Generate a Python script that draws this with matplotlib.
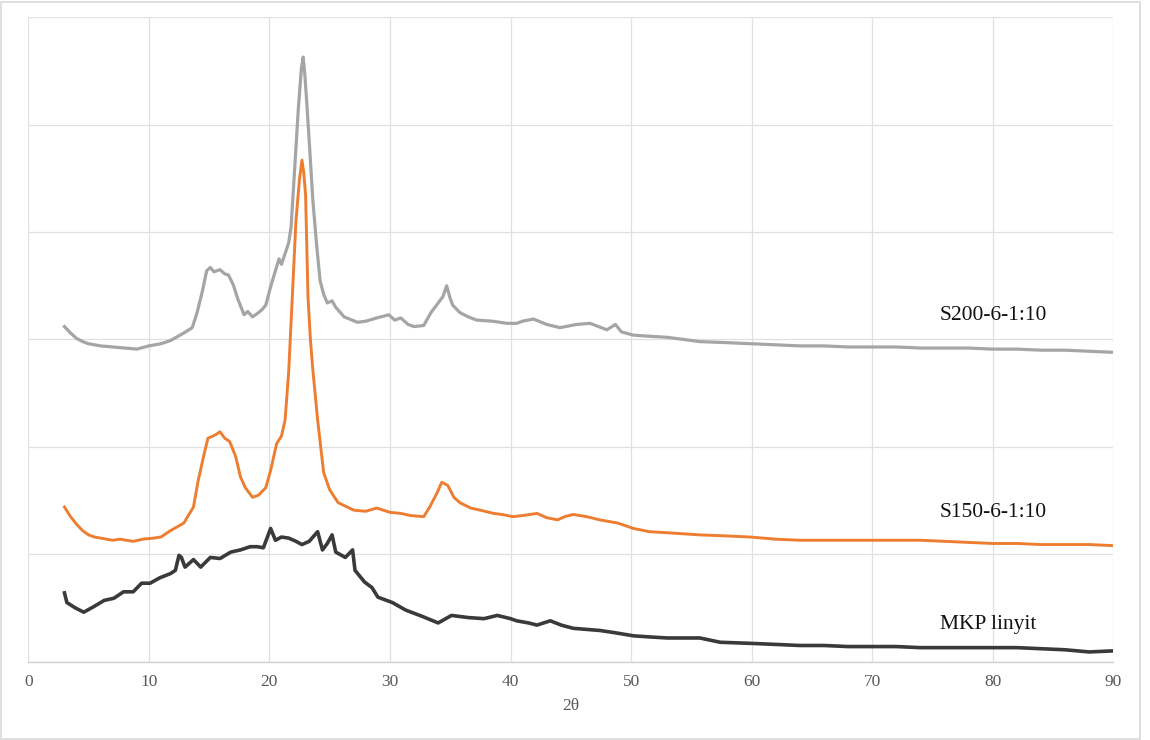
import matplotlib
matplotlib.use("Agg")
import matplotlib.pyplot as plt
from matplotlib.patches import Rectangle

# XRD patterns (intensity in arbitrary, vertically offset units)
s200_x = [3.0, 3.5, 4.0, 4.5, 5.0, 6.0, 7.0, 8.0, 9.0, 10.0, 11.0, 11.8, 12.9, 13.6, 14.0,
          14.4, 14.8, 15.1, 15.4, 15.9, 16.3, 16.6, 17.0, 17.4, 17.9, 18.2, 18.6, 19.1, 19.4,
          19.7, 20.1, 20.5, 20.8, 21.0, 21.3, 21.6, 21.8, 22.1, 22.4, 22.65, 22.8, 22.95, 23.1,
          23.3, 23.6, 23.9, 24.2, 24.5, 24.8, 25.2, 25.5, 26.2, 27.3, 28.0, 28.9, 29.9, 30.4,
          30.9, 31.5, 32.0, 32.8, 33.4, 34.0, 34.4, 34.7, 35.0, 35.2, 35.8, 36.5, 37.2, 38.5,
          39.7, 40.5, 41.0, 41.9, 43.0, 44.1, 45.5, 46.6, 48.0, 48.7, 49.2, 50.2, 51.5, 53.0,
          55.7, 58.0, 60.0, 62.0, 64.0, 66.0, 68.0, 70.0, 72.0, 74.0, 76.0, 78.0, 80.0, 82.0,
          84.0, 86.0, 88.0, 90.0]
s200_y = [3.12, 3.06, 3.01, 2.98, 2.96, 2.94, 2.93, 2.92, 2.91, 2.94, 2.96, 2.99, 3.06, 3.11, 3.25,
          3.43, 3.64, 3.67, 3.63, 3.65, 3.61, 3.60, 3.51, 3.37, 3.23, 3.26, 3.21, 3.25, 3.28,
          3.32, 3.49, 3.64, 3.75, 3.70, 3.80, 3.90, 4.05, 4.60, 5.15, 5.52, 5.63, 5.45, 5.20,
          4.85, 4.30, 3.90, 3.55, 3.42, 3.34, 3.36, 3.30, 3.21, 3.16, 3.17, 3.20, 3.23, 3.18,
          3.20, 3.14, 3.12, 3.13, 3.25, 3.34, 3.40, 3.50, 3.38, 3.32, 3.25, 3.21, 3.18, 3.17,
          3.15, 3.15, 3.17, 3.19, 3.14, 3.11, 3.14, 3.15, 3.09, 3.14, 3.07, 3.04, 3.03, 3.02,
          2.98, 2.97, 2.96, 2.95, 2.94, 2.94, 2.93, 2.93, 2.93, 2.92, 2.92, 2.92, 2.91, 2.91,
          2.90, 2.90, 2.89, 2.88]

s150_x = [3.0, 3.5, 4.0, 4.5, 5.0, 5.5, 6.0, 7.0, 7.6, 8.7, 9.5, 10.4, 11.0, 11.8, 12.9, 13.7,
          14.1, 14.6, 14.9, 15.5, 15.9, 16.3, 16.7, 17.2, 17.6, 18.0, 18.6, 19.1, 19.7, 20.1,
          20.6, 21.0, 21.3, 21.6, 21.9, 22.2, 22.5, 22.7, 22.85, 23.0, 23.2, 23.4, 23.6, 24.0,
          24.5, 25.0, 25.7, 27.0, 28.0, 28.9, 30.0, 30.9, 31.7, 32.8, 33.3, 33.9, 34.3, 34.8,
          35.3, 35.8, 36.7, 37.5, 38.6, 39.3, 40.2, 41.0, 42.2, 43.0, 43.9, 44.5, 45.2, 46.3,
          47.4, 48.9, 50.2, 51.5, 53.0, 55.7, 58.0, 59.9, 62.0, 64.0, 66.0, 68.0, 70.0, 72.0,
          74.0, 76.0, 78.0, 80.0, 82.0, 84.0, 86.0, 88.0, 90.0]
s150_y = [1.44, 1.35, 1.28, 1.22, 1.18, 1.16, 1.15, 1.13, 1.14, 1.12, 1.14, 1.15, 1.16, 1.22, 1.29, 1.44,
          1.69, 1.94, 2.08, 2.11, 2.14, 2.08, 2.05, 1.91, 1.72, 1.62, 1.53, 1.55, 1.62, 1.78,
          2.03, 2.10, 2.25, 2.70, 3.40, 4.10, 4.50, 4.67, 4.55, 4.35, 3.40, 3.00, 2.72, 2.25,
          1.76, 1.60, 1.48, 1.41, 1.40, 1.43, 1.39, 1.38, 1.36, 1.35, 1.44, 1.57, 1.67, 1.64,
          1.53, 1.48, 1.43, 1.41, 1.38, 1.37, 1.35, 1.36, 1.38, 1.34, 1.32, 1.35, 1.37, 1.35,
          1.32, 1.29, 1.24, 1.21, 1.20, 1.18, 1.17, 1.16, 1.14, 1.13, 1.13, 1.13, 1.13, 1.13,
          1.13, 1.12, 1.11, 1.10, 1.10, 1.09, 1.09, 1.09, 1.08]

mkp_x = [3.0, 3.2, 3.9, 4.6, 5.4, 6.3, 7.1, 7.9, 8.7, 9.4, 10.1, 10.9, 11.8, 12.2, 12.5, 12.7,
         13.0, 13.7, 14.3, 15.1, 15.9, 16.8, 17.6, 18.4, 19.0, 19.5, 20.1, 20.5, 21.0, 21.6,
         22.2, 22.7, 23.3, 24.0, 24.4, 24.8, 25.2, 25.5, 26.3, 26.9, 27.1, 27.9, 28.5, 29.0,
         30.2, 31.3, 32.7, 34.0, 35.1, 36.5, 37.8, 38.9, 40.0, 40.5, 41.5, 42.2, 43.3, 44.2,
         45.2, 46.3, 47.4, 48.6, 50.2, 51.5, 53.0, 55.7, 57.4, 59.9, 62.0, 64.0, 66.0, 68.0,
         70.0, 72.0, 74.0, 76.0, 78.0, 80.0, 82.0, 84.0, 86.0, 88.0, 90.0]
mkp_y = [0.64, 0.55, 0.50, 0.46, 0.51, 0.57, 0.59, 0.65, 0.65, 0.73, 0.73, 0.78, 0.82, 0.85, 0.99, 0.97,
         0.88, 0.95, 0.88, 0.97, 0.96, 1.02, 1.04, 1.07, 1.07, 1.06, 1.24, 1.13, 1.16, 1.15,
         1.12, 1.09, 1.12, 1.21, 1.04, 1.10, 1.18, 1.02, 0.97, 1.04, 0.85, 0.74, 0.69, 0.60,
         0.55, 0.48, 0.42, 0.36, 0.43, 0.41, 0.40, 0.43, 0.40, 0.38, 0.36, 0.34, 0.38, 0.34,
         0.31, 0.30, 0.29, 0.27, 0.24, 0.23, 0.22, 0.22, 0.18, 0.17, 0.16, 0.15, 0.15, 0.14,
         0.14, 0.14, 0.13, 0.13, 0.13, 0.13, 0.13, 0.12, 0.11, 0.09, 0.10]

series_labels = ["S200-6-1:10", "S150-6-1:10", "MKP linyit"]
x_ticks = [0, 10, 20, 30, 40, 50, 60, 70, 80, 90]
x_label = "2θ"

SERIF = ["Liberation Serif", "DejaVu Serif"]

fig = plt.figure(figsize=(11.5, 7.4), dpi=100)
fig.patch.set_facecolor("white")
fig.add_artist(Rectangle((1 / 1150, 1 / 740), 1139 / 1150, 737 / 740,
                         transform=fig.transFigure, fill=False,
                         edgecolor="#D9D9D9", linewidth=1.2))

ax = fig.add_axes([28.3 / 1150, 1 - 661.6 / 740, (1113.3 - 28.3) / 1150, (661.6 - 17.3) / 740])
ax.set_xlim(0, 90)
ax.set_ylim(0, 6)

ax.plot(s200_x, s200_y, color="#A5A5A5", linewidth=2.3, solid_joinstyle="round", zorder=3)
ax.plot(mkp_x, mkp_y, color="#3A3A3A", linewidth=2.6, solid_joinstyle="round", zorder=3)
ax.plot(s150_x, s150_y, color="#ED7D31", linewidth=2.1, solid_joinstyle="round", zorder=4)

ax.set_xticks(x_ticks)
ax.set_xticklabels([str(t) for t in x_ticks], fontfamily=SERIF, fontsize=12.5, color="#595959")
ax.set_yticks([0, 1, 2, 3, 4, 5, 6])
ax.set_yticklabels([])
ax.tick_params(axis="both", length=0, pad=9)
ax.grid(True, color="#E0E0E0", linewidth=0.9, zorder=0)
ax.set_axisbelow(True)
for side in ("top", "right", "left"):
    ax.spines[side].set_visible(False)
ax.spines["bottom"].set_color("#D0D0D0")
ax.spines["bottom"].set_linewidth(1.0)

ax.set_xlabel(x_label, fontfamily=SERIF, fontsize=12.5, color="#595959", labelpad=6)

label_y = [3.22, 1.39, 0.35]
for text, yy in zip(series_labels, label_y):
    ax.text(75.6, yy, text, fontfamily=SERIF, fontsize=15.5, color="#111111",
            ha="left", va="center", zorder=5)

fig.savefig("out.png", dpi=100, facecolor="white")
